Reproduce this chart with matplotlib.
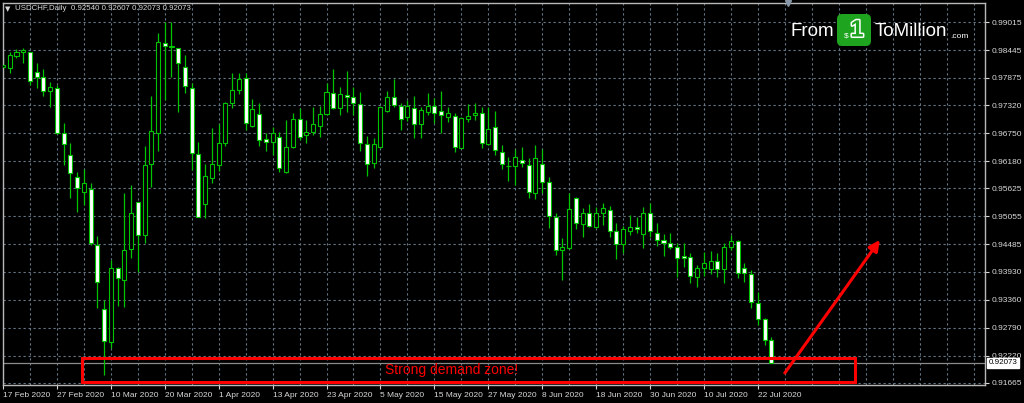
import matplotlib.pyplot as plt
from matplotlib.patches import Rectangle, FancyBboxPatch
import matplotlib.patheffects as pe

# daily USDCHF candles, 17 Feb 2020 .. 24 Jul 2020
opens = [0.98105, 0.98071, 0.98323, 0.98397, 0.98397, 0.97990, 0.97902, 0.97610, 0.97678, 0.96747,
         0.96306, 0.95865, 0.95546, 0.95613, 0.94473, 0.93162, 0.92504, 0.93997, 0.93760, 0.94384,
         0.95342, 0.94676, 0.96123, 0.96761, 0.98581, 0.98513, 0.98479, 0.98105, 0.97678, 0.96320,
         0.95301, 0.95831, 0.96102, 0.96544, 0.97358, 0.97630, 0.97868, 0.96897, 0.97141, 0.96625,
         0.96578, 0.96679, 0.95967, 0.96462, 0.97033, 0.96713, 0.96781, 0.96897, 0.97141, 0.97576,
         0.97257, 0.97521, 0.97494, 0.97338, 0.96530, 0.96150, 0.96462, 0.97209, 0.97494, 0.97304,
         0.97073, 0.97257, 0.96938, 0.97189, 0.97304, 0.97202, 0.97087, 0.97107, 0.96455, 0.97039,
         0.97121, 0.97168, 0.96530, 0.96883, 0.96374, 0.96089, 0.96082, 0.96204, 0.96102, 0.95525,
         0.96116, 0.95749, 0.95050, 0.94371, 0.94405, 0.95437, 0.94894, 0.95118, 0.94846, 0.95131,
         0.95186, 0.94758, 0.94493, 0.94765, 0.94846, 0.94690, 0.95118, 0.94710, 0.94568, 0.94520,
         0.94439, 0.94249, 0.94235, 0.93828, 0.93997, 0.93984, 0.94154, 0.93984, 0.94439, 0.94554,
         0.93997, 0.93882, 0.93298, 0.92959, 0.92540]
highs = [0.98275, 0.98411, 0.98458, 0.98492, 0.98411, 0.98173, 0.98051, 0.97800, 0.97732, 0.96965,
         0.96544, 0.95967, 0.96014, 0.95729, 0.94656, 0.93352, 0.94167, 0.94031, 0.95525, 0.95695,
         0.95355, 0.96496, 0.97508, 0.98798, 0.99015, 0.99015, 0.98479, 0.98343, 0.97766, 0.96578,
         0.96123, 0.96863, 0.96938, 0.97392, 0.97970, 0.97983, 0.97983, 0.97440, 0.97358, 0.96747,
         0.96870, 0.96781, 0.97019, 0.97168, 0.97257, 0.97019, 0.97291, 0.97304, 0.97766, 0.98051,
         0.97698, 0.98017, 0.97684, 0.97596, 0.96700, 0.96646, 0.97304, 0.97617, 0.97847, 0.97372,
         0.97426, 0.97508, 0.97291, 0.97562, 0.97460, 0.97617, 0.97277, 0.97155, 0.97087, 0.97345,
         0.97372, 0.97291, 0.97277, 0.97209, 0.96510, 0.96259, 0.96421, 0.96476, 0.96238, 0.96510,
         0.96421, 0.95865, 0.95131, 0.94609, 0.95525, 0.95457, 0.95220, 0.95308, 0.95254, 0.95321,
         0.95267, 0.94928, 0.94860, 0.95084, 0.95050, 0.95240, 0.95321, 0.94928, 0.94697, 0.94710,
         0.94520, 0.94507, 0.94317, 0.94065, 0.94337, 0.94357, 0.94303, 0.94520, 0.94676, 0.94575,
         0.94099, 0.93963, 0.93522, 0.92993, 0.92607]
lows = [0.98071, 0.97970, 0.98275, 0.98173, 0.97732, 0.97664, 0.97508, 0.97277, 0.96734, 0.96102,
        0.95423, 0.95152, 0.95288, 0.94473, 0.93183, 0.91825, 0.92368, 0.93230, 0.93217, 0.94201,
        0.93916, 0.94520, 0.95661, 0.96388, 0.97426, 0.97902, 0.97189, 0.97562, 0.96000, 0.95036,
        0.95016, 0.95742, 0.95987, 0.96489, 0.97257, 0.97549, 0.96815, 0.96870, 0.96489, 0.96388,
        0.96306, 0.95967, 0.95933, 0.96442, 0.96612, 0.96557, 0.96713, 0.96679, 0.97121, 0.97236,
        0.97121, 0.97189, 0.97121, 0.96388, 0.95885, 0.96034, 0.96442, 0.97189, 0.97277, 0.96815,
        0.97005, 0.96646, 0.96646, 0.97121, 0.96965, 0.96761, 0.96985, 0.96374, 0.96442, 0.96985,
        0.97019, 0.96442, 0.96510, 0.96306, 0.96014, 0.95783, 0.95695, 0.96068, 0.95423, 0.95403,
        0.95539, 0.94812, 0.94269, 0.93760, 0.94384, 0.94792, 0.94642, 0.94833, 0.94812, 0.94880,
        0.94629, 0.94188, 0.94317, 0.94676, 0.94710, 0.94418, 0.94642, 0.94452, 0.94255, 0.94384,
        0.93828, 0.94031, 0.93692, 0.93610, 0.93841, 0.93882, 0.93814, 0.93692, 0.94371, 0.93794,
        0.93726, 0.93183, 0.92843, 0.92436, 0.92073]
closes = [0.98133, 0.98343, 0.98397, 0.98445, 0.97813, 0.97902, 0.97610, 0.97698, 0.96747, 0.96530,
          0.95933, 0.95641, 0.95729, 0.94520, 0.93726, 0.92524, 0.93997, 0.93794, 0.94371, 0.95118,
          0.94676, 0.96102, 0.96795, 0.98601, 0.98526, 0.98533, 0.98173, 0.97718, 0.96340, 0.95050,
          0.95878, 0.96116, 0.96544, 0.97372, 0.97630, 0.97847, 0.96965, 0.97236, 0.96612, 0.96564,
          0.96761, 0.96034, 0.96462, 0.97033, 0.96679, 0.96781, 0.96938, 0.97141, 0.97596, 0.97257,
          0.97542, 0.97481, 0.97372, 0.96557, 0.96123, 0.96530, 0.97277, 0.97494, 0.97325, 0.97039,
          0.97304, 0.96938, 0.97223, 0.97304, 0.97155, 0.97121, 0.97168, 0.96476, 0.97053, 0.97107,
          0.97168, 0.96544, 0.96829, 0.96408, 0.96123, 0.96075, 0.96259, 0.96136, 0.95546, 0.96238,
          0.95763, 0.95063, 0.94371, 0.94425, 0.95206, 0.94914, 0.95118, 0.94860, 0.95131, 0.95220,
          0.94765, 0.94493, 0.94792, 0.94846, 0.94799, 0.95118, 0.94765, 0.94575, 0.94520, 0.94425,
          0.94215, 0.94215, 0.93841, 0.93997, 0.94113, 0.94154, 0.93984, 0.94439, 0.94561, 0.93896,
          0.93896, 0.93305, 0.92959, 0.92538, 0.92073]

date_labels = ["17 Feb 2020", "27 Feb 2020", "10 Mar 2020", "20 Mar 2020", "1 Apr 2020",
               "13 Apr 2020", "23 Apr 2020", "5 May 2020", "15 May 2020", "27 May 2020",
               "8 Jun 2020", "18 Jun 2020", "30 Jun 2020", "10 Jul 2020", "22 Jul 2020"]
price_ticks = [0.99015, 0.98445, 0.97875, 0.97320, 0.96750, 0.96180, 0.95625,
               0.95055, 0.94485, 0.93930, 0.93360, 0.92790, 0.92220, 0.91665]
last_price = 0.92073
zone_low, zone_high = 0.91685, 0.92174

text_color = "#d8d8d8"
grid_color = "#687888"
candle_edge = "#00c400"

fig = plt.figure(figsize=(10.24, 4.03), dpi=100, facecolor="black")
ax = fig.add_axes([3 / 1024, 18 / 403, 982 / 1024, 382 / 403], facecolor="black")

n = len(closes)
x = list(range(n))

# grid
for gx in range(0, 148, 4):
    ax.axvline(gx, color=grid_color, lw=0.8, ls=(0, (2, 2.5)), zorder=1)
for p in price_ticks:
    ax.axhline(p, color=grid_color, lw=0.8, ls=(0, (2, 2.5)), zorder=1)

# candles
ax.vlines(x, lows, highs, color=candle_edge, lw=0.9, zorder=2)
bottoms = [min(o, c) for o, c in zip(opens, closes)]
heights = [max(abs(c - o), 0.00004) for o, c in zip(opens, closes)]
fills = ["black" if c >= o else "white" for o, c in zip(opens, closes)]
ax.bar(x, heights, bottom=bottoms, width=0.6, color=fills, edgecolor=candle_edge,
       linewidth=0.8, zorder=3)

# last price line + label
ax.axhline(last_price, color="#8a8a8a", lw=0.9, zorder=1.5)
ax.text(1.004, last_price, f"{last_price:.5f}", transform=ax.get_yaxis_transform(),
        ha="left", va="center", fontsize=5.8, color="black", family="Liberation Sans",
        bbox=dict(boxstyle="square,pad=0.2", fc="white", ec="white"), clip_on=False)

# demand zone and arrow
ax.add_patch(Rectangle((11.7, zone_low), 126.4 - 11.7, zone_high - zone_low,
                       fill=False, ec="red", lw=2.2, zorder=4))
ax.text(66.6, (zone_low + zone_high) / 2, "Strong demand zone!", color="red",
        fontsize=10, ha="center", va="center", family="Liberation Sans", zorder=5)
ax.annotate("", xy=(130.1, 0.94577), xytext=(116.0, 0.91869),
            arrowprops=dict(arrowstyle="-|>", color="red", lw=2.2, mutation_scale=16,
                            shrinkA=0, shrinkB=0), zorder=5)

ax.set_xlim(0, 145.7)
ax.set_ylim(0.91624, 0.99402)

# chart shift marker
ax.plot([116.5], [0.99402], marker="v", color="#8898a8", ms=4.5, clip_on=False, zorder=6)

# axes styling
ax.set_xticks(list(range(0, 8 * len(date_labels), 8)))
ax.set_xticklabels(date_labels, ha="left", fontsize=6, family="Liberation Sans")
ax.yaxis.tick_right()
ax.set_yticks(price_ticks)
ax.set_yticklabels([f"{p:.5f}" for p in price_ticks], fontsize=6, family="Liberation Sans")
ax.tick_params(colors=text_color, length=3, width=0.8, pad=2)
for s in ax.spines.values():
    s.set_color("#b8b8b8")
    s.set_linewidth(1)

# header
fig.text(5 / 1024, 1 - 9 / 403, "\u25bc", fontsize=5, color=text_color, va="center")
fig.text(15 / 1024, 1 - 9 / 403, "USDCHF,Daily  0.92540 0.92607 0.92073 0.92073",
         fontsize=5.7, color=text_color, va="center", family="Liberation Sans")

# logo
fig.text(790 / 1024, 1 - 31 / 403, "From", color="white", fontsize=13.5, va="center",
         family="Liberation Sans")
fig.patches.append(FancyBboxPatch((837 / 1024, 1 - 46 / 403), 34 / 1024, 32 / 403,
                                  boxstyle="round,pad=0,rounding_size=0.005",
                                  mutation_aspect=1024 / 403, transform=fig.transFigure,
                                  fc="#1ea41e", ec="none"))
fig.text(857 / 1024, 1 - 30 / 403, "1", color="#1ea41e", fontsize=17, weight="bold",
         ha="center", va="center", family="Liberation Sans",
         path_effects=[pe.withStroke(linewidth=2.2, foreground="white")])
fig.text(846 / 1024, 1 - 36 / 403, "$", color="white", fontsize=6, ha="center",
         va="center", family="Liberation Sans")
fig.text(875 / 1024, 1 - 31 / 403, "ToMillion", color="white", fontsize=13.5, va="center",
         family="Liberation Sans")
fig.text(950 / 1024, 1 - 36 / 403, ".com", color="white", fontsize=6, va="center",
         family="Liberation Sans")

fig.savefig("out.png", dpi=100, facecolor="black")
